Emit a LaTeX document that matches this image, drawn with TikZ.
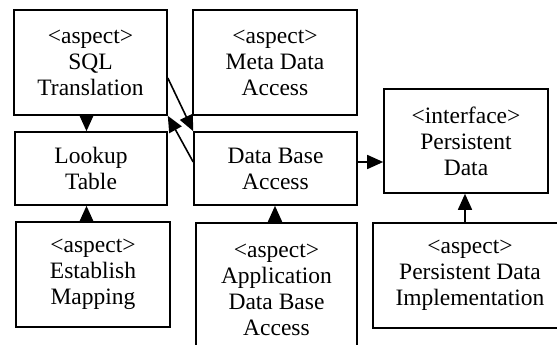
\documentclass[tikz,border=0pt]{standalone}
\usepackage{fontspec}
\setmainfont{Liberation Serif}
\usetikzlibrary{arrows.meta}

\begin{document}
\begin{tikzpicture}[x=1pt,y=-1pt,
    box/.style={draw, line width=1.6pt, align=center, inner sep=0pt,
        font=\fontsize{23.5}{26}\selectfont},
    link/.style={line width=1.6pt, -{Triangle[length=16pt,width=14pt]}}]
    \clip (0,0) rectangle (557,345);

    % left column
    \node[box, minimum width=153pt, minimum height=105pt] (sql) at (90.5,62.5) {<aspect>\\SQL\\Translation};
    \node[box, minimum width=152pt, minimum height=73pt] (lookup) at (91,168.5) {Lookup\\Table};
    \node[box, minimum width=154pt, minimum height=105pt] (mapping) at (93,274.5) {<aspect>\\Establish\\Mapping};

    % middle column
    \node[box, minimum width=164pt, minimum height=105pt] (meta) at (275,62.5) {<aspect>\\Meta Data\\Access};
    \node[box, minimum width=163pt, minimum height=73pt] (dba) at (275.5,168.5) {Data Base\\Access};
    \node[box, minimum width=161pt, minimum height=134pt] (appdba) at (276.5,290) {<aspect>\\Application\\Data Base\\Access};

    % right column
    \node[box, minimum width=164pt, minimum height=104pt] (pdata) at (466,141) {<interface>\\Persistent\\Data};
    \node[box, minimum width=194pt, minimum height=105pt] (pdimpl) at (470,275.5) {<aspect>\\Persistent Data\\Implementation};

    % connectors
    \draw[link] (sql.south -| 86.5,0) -- (lookup.north -| 86.5,0);
    \draw[link] (mapping.north -| 86.5,0) -- (lookup.south -| 86.5,0);
    \draw[link] (appdba.north -| 275,0) -- (dba.south -| 275,0);
    \draw[link] (pdimpl.north -| 465,0) -- (pdata.south -| 465,0);
    \draw[link] (dba.east |- 0,162) -- (pdata.west |- 0,162);
    \draw[link] (sql.east |- 0,78) -- (dba.north west);
    \draw[link] (dba.west |- 0,162) -- (sql.south east);
\end{tikzpicture}
\end{document}
